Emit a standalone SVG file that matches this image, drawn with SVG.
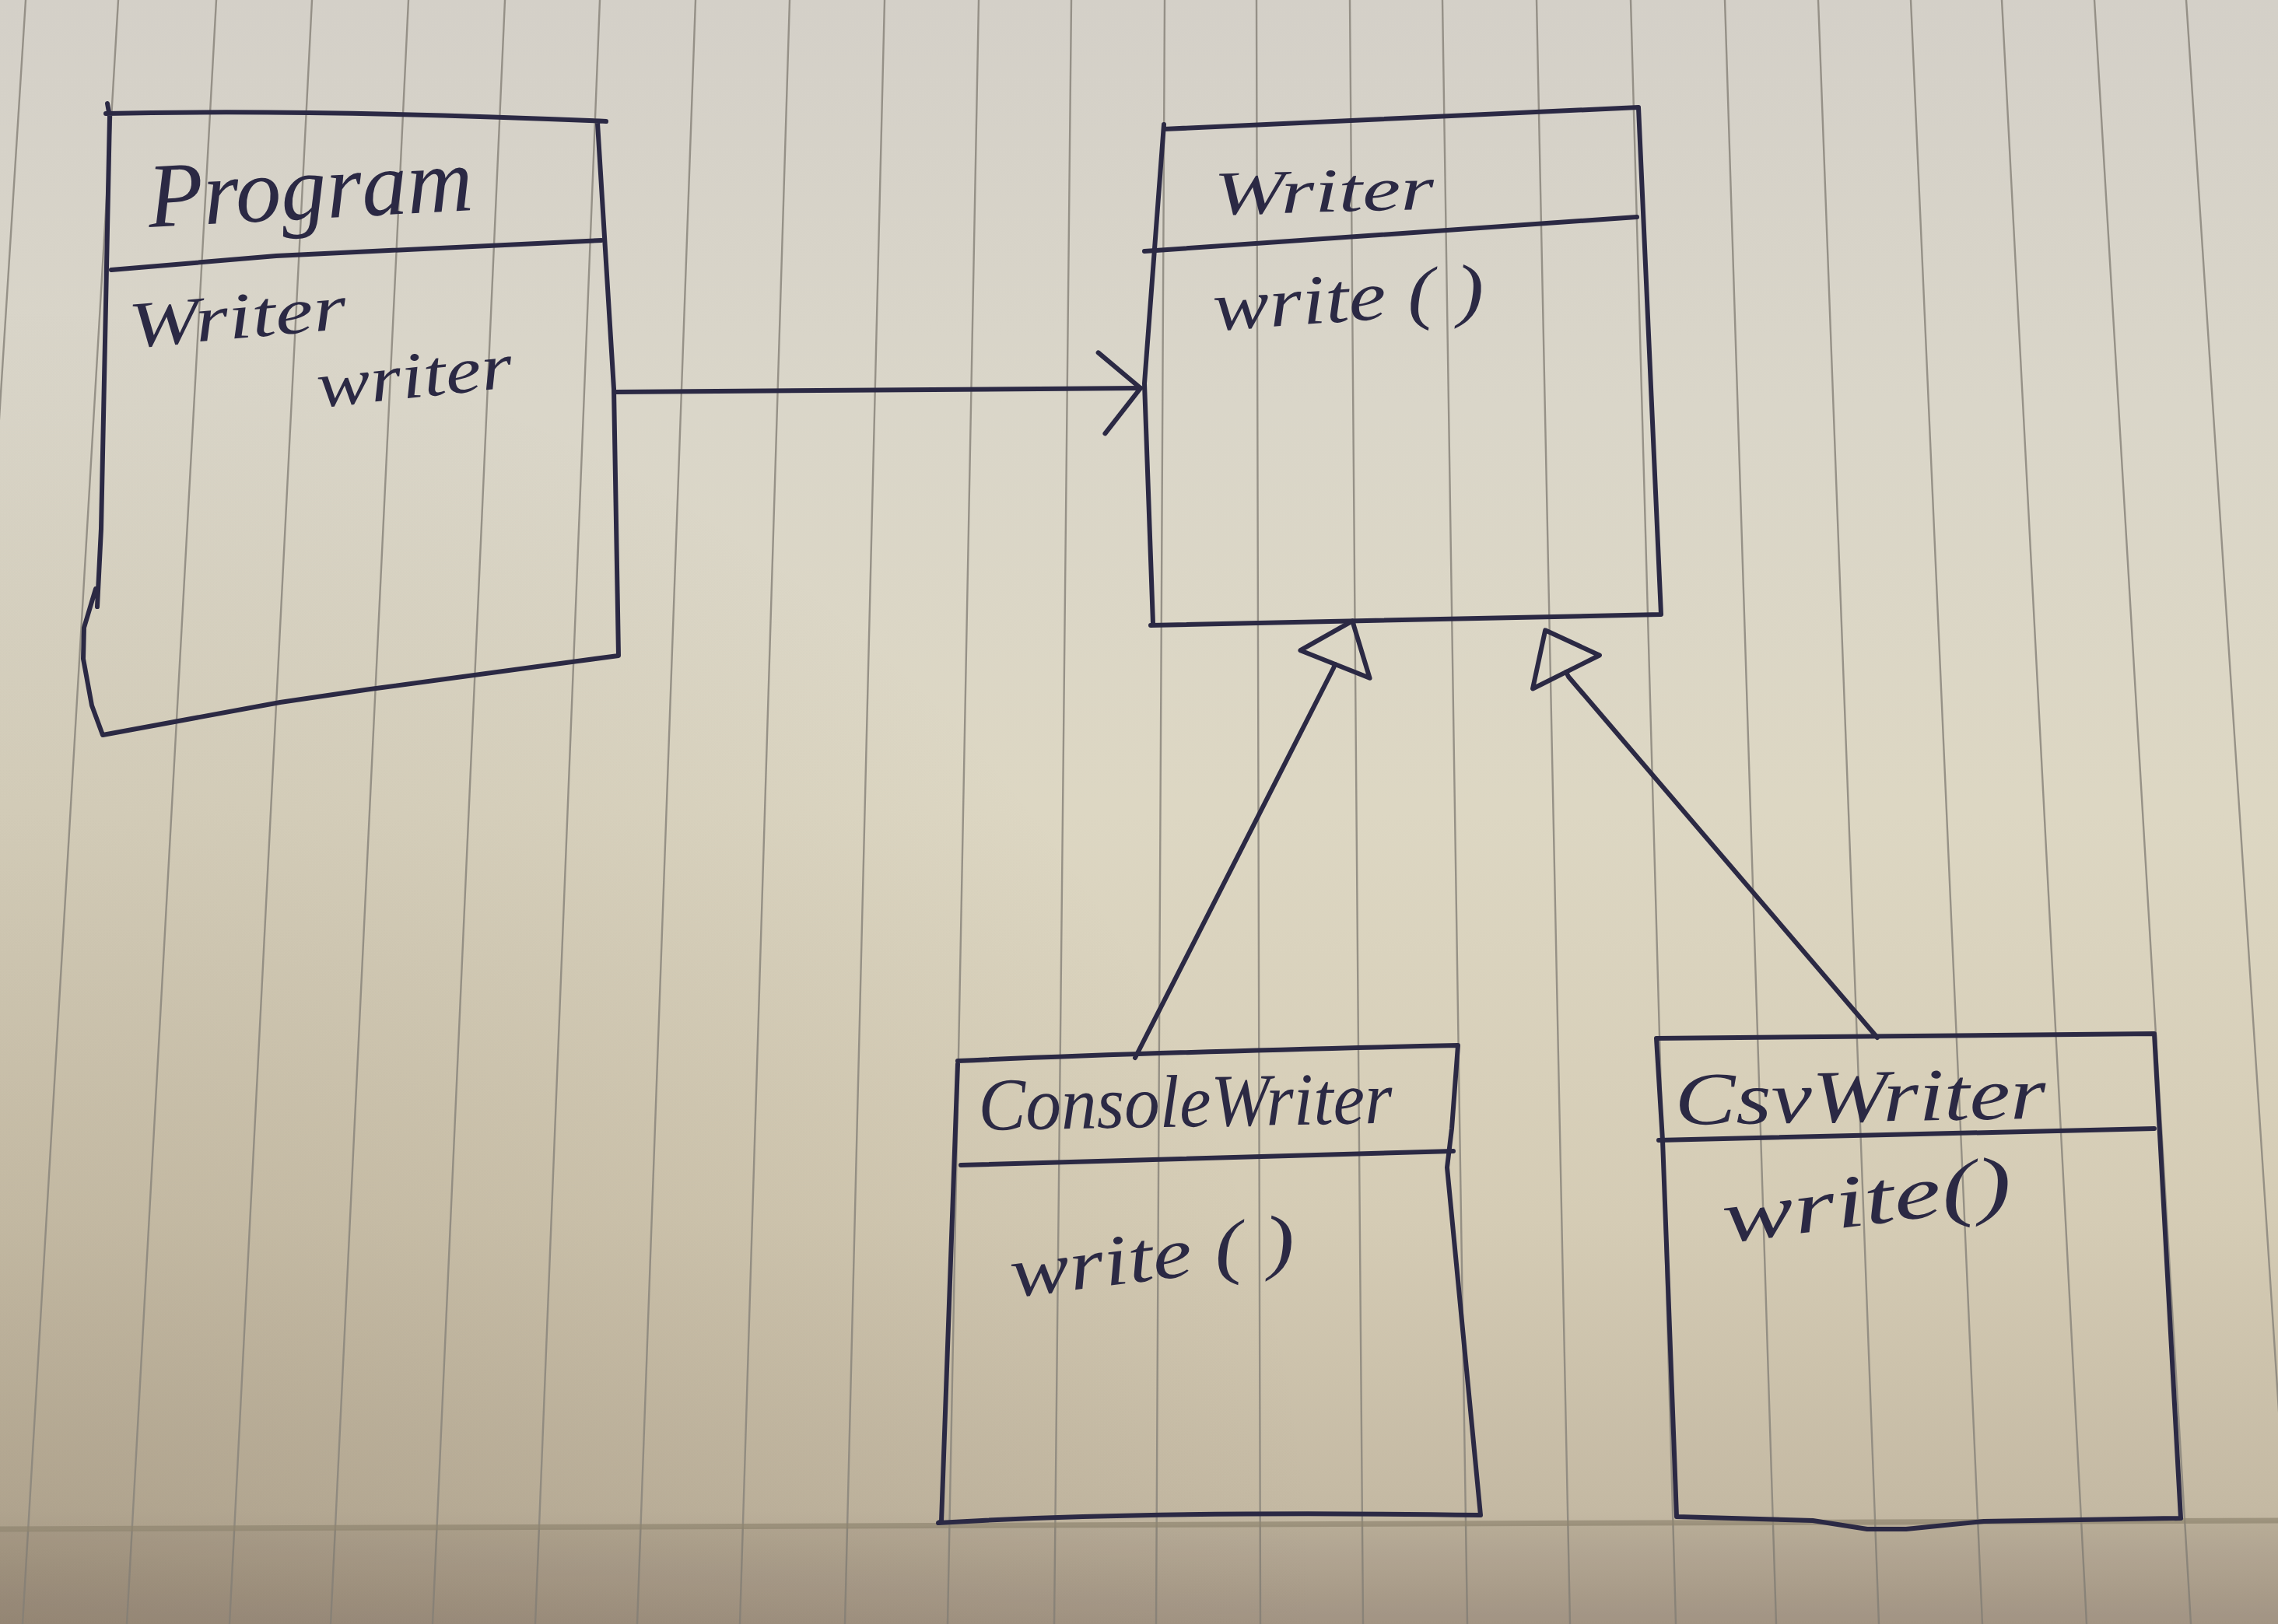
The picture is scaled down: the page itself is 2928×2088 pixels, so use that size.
<svg xmlns="http://www.w3.org/2000/svg" width="2928" height="2088" viewBox="0 0 2928 2088">
<defs>
<linearGradient id="paper" x1="0" y1="0" x2="0" y2="1">
<stop offset="0" stop-color="#d4d0c8"/>
<stop offset="0.25" stop-color="#dad6c9"/>
<stop offset="0.5" stop-color="#ddd7c3"/>
<stop offset="0.75" stop-color="#d5ccb5"/>
<stop offset="0.93" stop-color="#c4b9a3"/>
<stop offset="1" stop-color="#a99b8a"/>
</linearGradient>
<radialGradient id="shade" cx="0" cy="2088" r="1700" gradientUnits="userSpaceOnUse">
<stop offset="0" stop-color="#6e5e4a" stop-opacity="0.26"/>
<stop offset="1" stop-color="#6e5e4a" stop-opacity="0"/>
</radialGradient>
<marker id="openArrow" viewBox="-70 -70 140 140" markerWidth="140" markerHeight="140" refX="0" refY="0" markerUnits="userSpaceOnUse" orient="auto">
<path d="M-54,-46 L0,0 L-46,58" fill="none" stroke="#2b2944" stroke-width="6" stroke-linecap="round" stroke-linejoin="round"/>
</marker>
<marker id="hollowTri" viewBox="-70 -70 140 140" markerWidth="140" markerHeight="140" refX="0" refY="0" markerUnits="userSpaceOnUse" orient="auto">
<path d="M0,-48 L60,0 L0,48 Z" fill="none" stroke="#2b2944" stroke-width="6" stroke-linecap="round" stroke-linejoin="round"/>
</marker>
</defs>
<style>
.rule{stroke:#8a857b;stroke-width:2.4;stroke-opacity:0.85;fill:none}
.pen{fill:none;stroke:#2b2944;stroke-width:6;stroke-linecap:round;stroke-linejoin:round}
.hand{font-family:"Liberation Serif","DejaVu Serif",serif;font-style:italic;fill:#2b2944}
</style>
<rect width="2928" height="2088" fill="url(#paper)"/>
<rect width="2928" height="2088" fill="url(#shade)"/>
<g id="paper-lines">
<path class="rule" d="M33,0 L-99,2088 M152,0 L29,2088 M278,0 L163,2088 M401,0 L295,2088 M525,0 L425,2088 M649,0 L556,2088 M771,0 L688,2088 M894,0 L819,2088 M1015,0 L951,2088 M1137,0 L1086,2088 M1258,0 L1218,2088 M1377,0 L1355,2088 M1497,0 L1486,2088 M1615,0 L1620,2088 M1735,0 L1752,2088 M1854,0 L1886,2088 M1975,0 L2018,2088 M2096,0 L2154,2088 M2217,0 L2283,2088 M2337,0 L2415,2088 M2456,0 L2548,2088 M2573,0 L2682,2088 M2692,0 L2816,2088 M2810,0 L2947,2088"/>
<path d="M0,1968 L2928,1955 L2928,2088 L0,2088 Z" fill="#4a3c2c" fill-opacity="0.07"/>
<path d="M0,1966 L2928,1955" stroke="#8f846f" stroke-width="7" stroke-opacity="0.7" fill="none"/>
</g>
<g id="connectors">
<path id="assoc" class="pen" d="M791,504 L1466,499" marker-end="url(#openArrow)"/>
<path id="gen-console" class="pen" d="M1459,1360 L1714,859 L1716,854" marker-end="url(#hollowTri)"/>
<path id="gen-csv" class="pen" d="M2413,1334 L2016,870 L2013,864" marker-end="url(#hollowTri)"/>
</g>
<g id="program">
<path class="pen" d="M136,146 Q406,140 779,156 M768,158 L789,500 L795,843 L735,851 L476,886 L360,903 L132,945 L118,907 L107,847 L108,807 L123,757 M125,780 L130,680 L141,150 L138,133"/>
<path class="pen" d="M143,347 L355,329 L773,309"/>
<text class="hand" x="192" y="292" font-size="118" textLength="418" lengthAdjust="spacingAndGlyphs" transform="rotate(-3 192 292)">Program</text>
<text class="hand" x="168" y="447" font-size="84" textLength="280" lengthAdjust="spacingAndGlyphs" transform="rotate(-5 168 447)">Writer</text>
<text class="hand" x="410" y="524" font-size="84" textLength="252" lengthAdjust="spacingAndGlyphs" transform="rotate(-6 410 524)">writer</text>
</g>
<g id="writer">
<path class="pen" d="M1496,166 L2106,138 L2135,790 L1479,804 M1496,160 L1471,493 L1482,802"/>
<path class="pen" d="M1471,323 L2104,279"/>
<text class="hand" x="1561" y="276" font-size="80" textLength="283" lengthAdjust="spacingAndGlyphs" transform="rotate(-1.5 1561 276)">Writer</text>
<text class="hand" x="1561" y="425" font-size="90" textLength="349" lengthAdjust="spacingAndGlyphs" transform="rotate(-4 1561 425)">write ( )</text>
</g>
<g id="consoleWriter">
<path class="pen" d="M1231,1364 Q1475,1353 1874,1344 L1866,1451 L1860,1501 L1903,1948 Q1475,1942 1206,1958 L1210,1956 L1231,1368"/>
<path class="pen" d="M1235,1498 L1868,1480"/>
<text class="hand" x="1258" y="1453" font-size="96" textLength="532" lengthAdjust="spacingAndGlyphs" transform="rotate(-1 1258 1453)">ConsoleWriter</text>
<text class="hand" x="1302" y="1668" font-size="92" textLength="368" lengthAdjust="spacingAndGlyphs" transform="rotate(-7 1302 1668)">write ( )</text>
</g>
<g id="csvWriter">
<path class="pen" d="M2129,1335 L2769,1329 L2803,1952 L2550,1956 L2450,1966 L2400,1966 L2330,1955 L2155,1950 L2137,1466 L2129,1335"/>
<path class="pen" d="M2132,1466 L2769,1451"/>
<text class="hand" x="2153" y="1446" font-size="96" textLength="477" lengthAdjust="spacingAndGlyphs" transform="rotate(-1 2153 1446)">CsvWriter</text>
<text class="hand" x="2218" y="1598" font-size="96" textLength="374" lengthAdjust="spacingAndGlyphs" transform="rotate(-7.3 2218 1598)">write()</text>
</g>
</svg>
